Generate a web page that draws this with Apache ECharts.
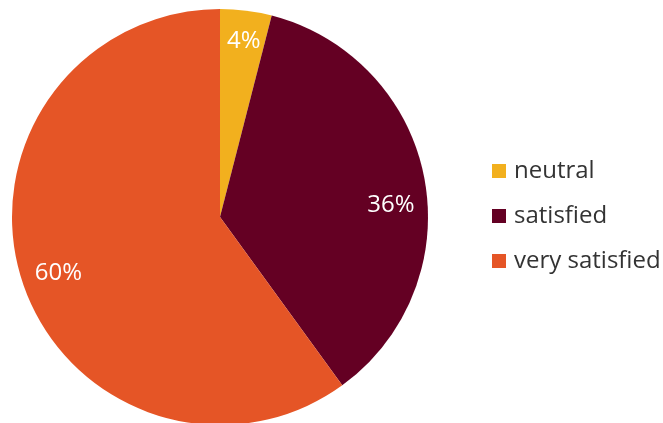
<!DOCTYPE html>
<html>
<head>
<meta charset="utf-8">
<style>
  html, body { margin: 0; padding: 0; background: #ffffff; }
  #chart { width: 663px; height: 423px; }
</style>
<script src="https://cdn.jsdelivr.net/npm/echarts@6/dist/echarts.min.js"></script>
</head>
<body>
<div id="chart"></div>
<script>
// Satisfaction survey shares
const categories = ['neutral', 'satisfied', 'very satisfied'];
const shares = [4, 36, 60];
const palette = ['#F2B01E', '#640023', '#E55526'];

const FONT = '"Open Sans", "Noto Sans", sans-serif';
const labelNudge = [[2, -3], [0, 21], [4, 2]];

const chart = echarts.init(document.getElementById('chart'), null, { renderer: 'canvas' });
chart.setOption({
  animation: false,
  color: palette,
  legend: {
    orient: 'vertical',
    left: 492,
    top: 159,
    padding: 0,
    itemWidth: 14,
    itemHeight: 14,
    itemGap: 21,
    icon: 'rect',
    data: categories,
    textStyle: { fontFamily: FONT, fontSize: 24, lineHeight: 24, color: '#333333', padding: [0, 0, 0, 3] }
  },
  series: [
    {
      type: 'pie',
      center: [220, 217],
      radius: [0, 208],
      startAngle: 90,
      clockwise: true,
      silent: true,
      label: { show: false },
      labelLine: { show: false },
      data: categories.map((name, i) => ({ name: name, value: shares[i] }))
    },
    {
      // transparent ring carrying the percentage labels at ~82% of the radius
      type: 'pie',
      center: [220, 217],
      radius: [134, 208],
      startAngle: 90,
      clockwise: true,
      silent: true,
      itemStyle: { color: 'rgba(0,0,0,0)' },
      label: {
        show: true,
        position: 'inside',
        formatter: (p) => p.value + '%',
        color: '#ffffff',
        fontFamily: FONT,
        fontSize: 24
      },
      labelLine: { show: false },
      data: categories.map((name, i) => ({
        name: name,
        value: shares[i],
        label: { offset: labelNudge[i] }
      }))
    }
  ]
});
</script>
</body>
</html>
